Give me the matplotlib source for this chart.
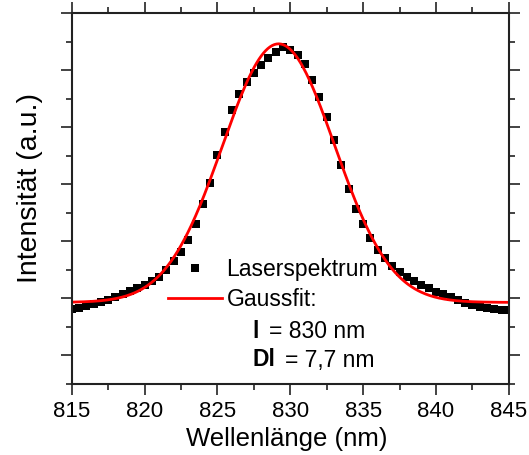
import numpy as np
import matplotlib.pyplot as plt
from matplotlib.lines import Line2D
from matplotlib.ticker import MultipleLocator, NullFormatter

plt.rcParams['font.family'] = ['Liberation Sans', 'DejaVu Sans']

# Measured laser spectrum (wavelength in nm, intensity in a.u.)
wavelength = np.arange(815.0, 845.01, 0.5)
intensity = [
    -0.18, -0.16, -0.13, -0.10, -0.06, -0.02, 0.03, 0.08, 0.13, 0.18,
    0.24, 0.30, 0.37, 0.49, 0.65, 0.81, 1.03, 1.30, 1.65, 2.03,
    2.51, 2.92, 3.30, 3.58, 3.79, 3.95, 4.09, 4.22, 4.32, 4.40,
    4.36, 4.26, 4.11, 3.82, 3.53, 3.18, 2.77, 2.33, 1.92, 1.57,
    1.30, 1.05, 0.84, 0.70, 0.56, 0.46, 0.37, 0.30, 0.24, 0.18,
    0.12, 0.07, 0.02, -0.03, -0.08, -0.12, -0.15, -0.17, -0.19, -0.20,
    -0.20,
]

# Gauss fit parameters (Origin convention: w = 2 sigma)
fit_y0 = -0.07
fit_height = 4.53
fit_xc = 829.2
fit_w = 7.7

x_fit = np.linspace(815, 845, 400)
y_fit = fit_y0 + fit_height * np.exp(-2 * ((x_fit - fit_xc) / fit_w) ** 2)

fig = plt.figure(figsize=(5.29, 4.55), dpi=100)
ax = fig.add_axes([0.1355, 0.156, 0.8265, 0.8154])

ax.plot(wavelength, intensity, 's', color='black', ms=5.5, mew=0)
ax.plot(x_fit, y_fit, '-', color='#ff0000', lw=2)

ax.set_xlim(815, 845)
ax.set_ylim(-1.5, 5)
ax.xaxis.set_major_locator(MultipleLocator(5))
ax.xaxis.set_minor_locator(MultipleLocator(2.5))
ax.yaxis.set_major_locator(MultipleLocator(1))
ax.yaxis.set_minor_locator(MultipleLocator(0.5))
ax.yaxis.set_major_formatter(NullFormatter())

ax.tick_params(which='both', direction='out', top=True, right=True,
               width=1.2, color='#222222')
ax.tick_params(which='major', length=8)
ax.tick_params(which='minor', length=4.5)
ax.tick_params(axis='x', labelsize=16, pad=4)
for s in ax.spines.values():
    s.set_linewidth(1.5)
    s.set_color('#222222')

ax.set_xlabel('Wellenlänge (nm)', fontsize=18.5, labelpad=4, x=0.492)
ax.set_ylabel('Intensität (a.u.)', fontsize=20.5, labelpad=9, y=0.528)

handles = [
    Line2D([], [], ls='none', marker='s', color='black', ms=6, mew=0),
    Line2D([], [], color='#ff0000', lw=2),
]
ax.legend(handles, ['Laserspektrum', 'Gaussfit:'], loc='center left',
          bbox_to_anchor=(0.22, 0.268), frameon=False, fontsize=16.5,
          handlelength=2.36, handletextpad=0.2, labelspacing=0.3,
          borderaxespad=0, borderpad=0)

# Fit results below the legend
W, H = 529, 455
fig.text(252 / W, 1 - 332 / H, 'l', fontsize=16.5, fontweight='bold',
         va='center', ha='left')
fig.text(269 / W, 1 - 332 / H, '= 830 nm', fontsize=16.5, va='center',
         ha='left')
fig.text(252 / W, 1 - 360 / H, 'Dl', fontsize=16.5, fontweight='bold',
         va='center', ha='left')
fig.text(285 / W, 1 - 360 / H, '= 7,7 nm', fontsize=16.5, va='center',
         ha='left')

fig.savefig('out.png', dpi=100)
